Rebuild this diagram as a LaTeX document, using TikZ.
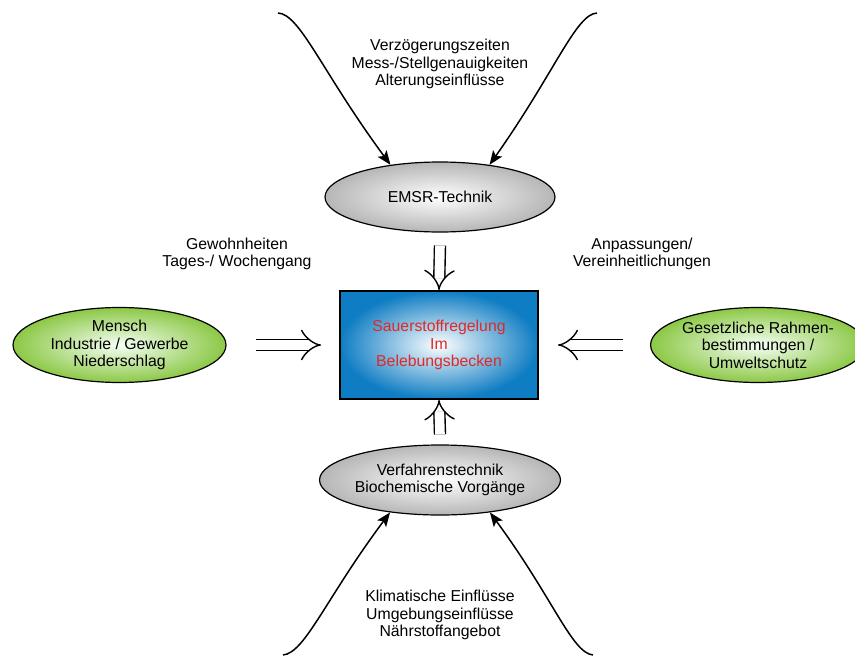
\documentclass[tikz,border=0pt]{standalone}
\usepackage{fontspec}
\setmainfont{Liberation Sans}
\usetikzlibrary{shapes.geometric,arrows.meta}
\definecolor{grayout}{RGB}{182,182,182}
\definecolor{greenout}{RGB}{140,200,70}
\definecolor{blueout}{RGB}{15,125,195}
\definecolor{redtxt}{RGB}{225,40,40}
\begin{document}
\begin{tikzpicture}[x=1pt,y=-1pt,
  font=\fontsize{15.8}{17.5}\selectfont,
  grayell/.style={ellipse, draw=black, line width=1.2pt, minimum width=230pt, minimum height=70pt, inner sep=0pt, align=center, inner color=white, outer color=grayout},
  greenell/.style={ellipse, draw=black, line width=1.2pt, minimum width=213pt, minimum height=75pt, inner sep=0pt, align=center, inner color=green!4!white, outer color=greenout},
  centerbox/.style={rectangle, draw=black, line width=1.8pt, minimum width=198pt, minimum height=108pt, inner sep=0pt, align=center, inner color=white, outer color=blueout, text=redtxt},
  lbl/.style={align=center, inner sep=0pt},
  dbl/.style={double, double distance=9.6pt, line width=1.4pt, -{Implies}},
  curvearr/.style={line width=1.5pt, -{Stealth[length=14pt,width=11pt,inset=3pt]}}
]
\useasboundingbox (0,0) rectangle (855,664);

\node[grayell] (emsr) at (440,197) {EMSR-Technik};
\node[grayell] (verf) at (440,480) {Verfahrenstechnik\\Biochemische Vorgänge};
\node[centerbox] (box) at (439,345) {Sauerstoffregelung\\Im\\Belebungsbecken};
\node[greenell] (mensch) at (119.5,345) {Mensch\\Industrie / Gewerbe\\Niederschlag};
\node[greenell] (gesetz) at (758,345) {Gesetzliche Rahmen-\\bestimmungen /\\Umweltschutz};

\node[lbl] (topt) at (440,64) {Verzögerungszeiten\\Mess-/Stellgenauigkeiten\\Alterungseinflüsse};
\node[lbl] (bott) at (440,615) {Klimatische Einflüsse\\Umgebungseinflüsse\\Nährstoffangebot};
\node[lbl] (gew) at (237,254) {Gewohnheiten\\Tages-/ Wochengang};
\node[lbl] (anp) at (642,254) {Anpassungen/\\Vereinheitlichungen};

\draw[dbl] ([yshift=-13pt]emsr.south) -- (box.north);
\draw[dbl] ([yshift=10pt]verf.north) -- (box.south);
\draw[dbl] ([xshift=29pt]mensch.east) -- ([xshift=-18pt]box.west);
\draw[dbl] ([xshift=-27pt]gesetz.west) -- ([xshift=19pt]box.east);

\coordinate (tl) at (278,13);
\coordinate (tr) at (597,13);
\coordinate (bl) at (283,655);
\coordinate (br) at (593,655);
\draw[curvearr] (tl) .. controls (300,14) and (322,72) .. (emsr.147);
\draw[curvearr] (tr) .. controls (576,14) and (555,72) .. (emsr.33);
\draw[curvearr] (bl) .. controls (305,653) and (326,598) .. (verf.-147);
\draw[curvearr] (br) .. controls (572,653) and (553,598) .. (verf.-33);
\end{tikzpicture}
\end{document}
